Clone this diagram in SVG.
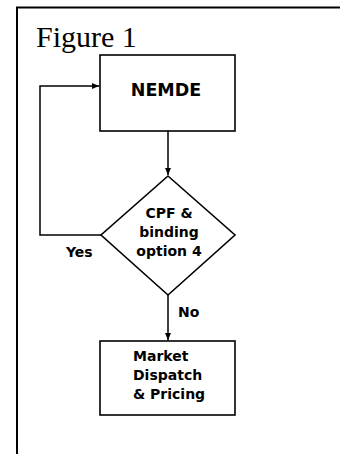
<svg xmlns="http://www.w3.org/2000/svg" width="340" height="454" viewBox="0 0 340 454">
<style>
.box{fill:#fff;stroke:#000;stroke-width:1.6}
.lbl{font-family:"DejaVu Sans",Verdana,sans-serif;font-weight:bold;fill:#000}
.ln{fill:none;stroke:#000;stroke-width:1.5}
</style>
<defs>
<marker id="ah" markerWidth="8" markerHeight="8" refX="7" refY="4" orient="auto" markerUnits="userSpaceOnUse">
<path d="M0,1 L7,4 L0,7 Z" fill="#000"/>
</marker>
</defs>
<rect width="340" height="454" fill="#fff"/>
<g id="frame">
<path d="M17,454 L17,7.5 L340,7.5" fill="none" stroke="#000" stroke-width="2"/>
<text x="36" y="47" font-family="Liberation Serif,Times New Roman,serif" font-size="30" fill="#000">Figure 1</text>
</g>
<g id="connectors">
<path class="ln" d="M168,131 L168,175" marker-end="url(#ah)"/>
<path class="ln" d="M101,235 L40,235 L40,86 L99,86" marker-end="url(#ah)"/>
<path class="ln" d="M168,295 L168,340" marker-end="url(#ah)"/>
<text class="lbl" x="66" y="257" font-size="14">Yes</text>
<text class="lbl" x="178" y="317" font-size="14">No</text>
</g>
<g id="nemde">
<rect class="box" x="100" y="55" width="135" height="76"/>
<text class="lbl" x="166" y="95.5" font-size="17.5" text-anchor="middle">NEMDE</text>
</g>
<g id="decision">
<path class="box" d="M168,176 L235,235 L168,295 L101,235 Z"/>
<text class="lbl" x="169" y="218" font-size="14" text-anchor="middle">CPF &amp;</text>
<text class="lbl" x="169" y="237" font-size="14" text-anchor="middle">binding</text>
<text class="lbl" x="169" y="256" font-size="14" text-anchor="middle">option 4</text>
</g>
<g id="market">
<rect class="box" x="100" y="341" width="135" height="74"/>
<text class="lbl" x="133" y="361" font-size="14">Market</text>
<text class="lbl" x="133" y="380" font-size="14">Dispatch</text>
<text class="lbl" x="133" y="399" font-size="14">&amp; Pricing</text>
</g>
</svg>
